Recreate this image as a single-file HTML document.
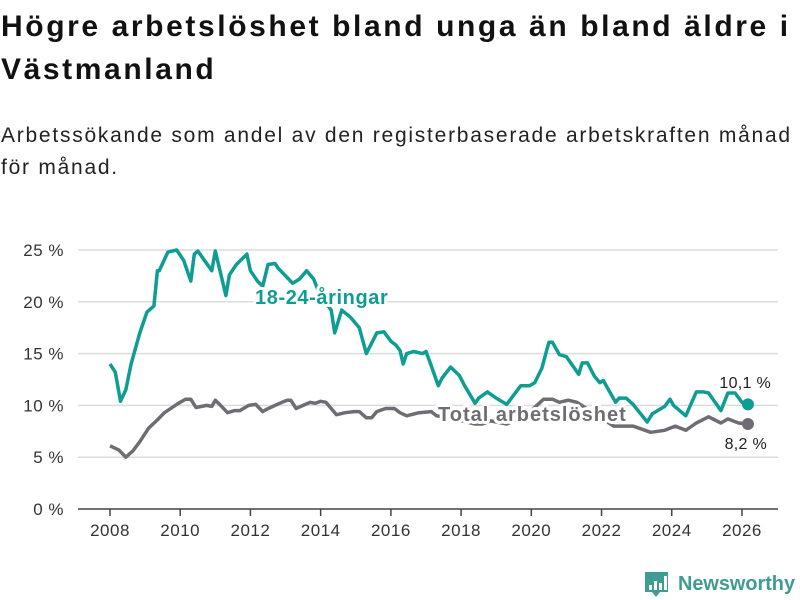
<!DOCTYPE html>
<html><head><meta charset="utf-8">
<style>
body{margin:0;background:#fff;width:800px;height:600px;overflow:hidden;font-family:"Liberation Sans",sans-serif;color:#111}
#title{position:absolute;left:1px;top:5px;font-size:30px;font-weight:bold;line-height:43px;white-space:nowrap;letter-spacing:2.6px}
#sub{position:absolute;left:1px;top:120px;font-size:21px;line-height:32px;white-space:nowrap;color:#222;letter-spacing:1.75px}
svg{position:absolute;left:0;top:0}
</style></head><body>
<div id="title">Högre arbetslöshet bland unga än bland äldre i<br>Västmanland</div>
<div id="sub">Arbetssökande som andel av den registerbaserade arbetskraften månad<br>för månad.</div>
<svg id="chart" width="800" height="600"></svg>
<script>
const yTicks=[0,5,10,15,20,25];
const xTicks=[2008,2010,2012,2014,2016,2018,2020,2022,2024,2026];
const youthT=[2008,2008.15,2008.3,2008.45,2008.6,2008.85,2009.05,2009.25,2009.35,2009.4,2009.65,2009.9,2010.1,2010.3,2010.4,2010.5,2010.9,2011.0,2011.3,2011.4,2011.6,2011.9,2012.0,2012.2,2012.35,2012.5,2012.7,2012.8,2013.0,2013.2,2013.4,2013.6,2013.8,2014.0,2014.3,2014.4,2014.6,2014.85,2015.1,2015.3,2015.45,2015.6,2015.8,2016.0,2016.15,2016.26,2016.35,2016.45,2016.65,2016.9,2017.0,2017.1,2017.35,2017.45,2017.7,2017.95,2018.1,2018.4,2018.5,2018.75,2019.0,2019.3,2019.7,2019.95,2020.1,2020.3,2020.5,2020.6,2020.8,2021.0,2021.35,2021.45,2021.6,2021.8,2021.95,2022.05,2022.4,2022.5,2022.7,2022.9,2023.3,2023.45,2023.8,2023.95,2024.05,2024.4,2024.7,2024.9,2025.05,2025.4,2025.6,2025.8,2026.0,2026.17];
const youthV=[14.0,13.2,10.4,11.5,14.0,17.0,19.0,19.6,23.0,23.0,24.8,25.0,24.0,22.0,24.6,24.9,23.0,24.9,20.6,22.6,23.6,24.6,23.0,22.0,21.5,23.6,23.7,23.2,22.5,21.8,22.2,23.0,22.2,20.5,19.2,17.0,19.2,18.5,17.5,15.0,16.0,17.0,17.1,16.2,15.8,15.3,14.0,15.0,15.2,15.0,15.2,14.3,11.9,12.6,13.7,12.9,11.9,10.2,10.7,11.3,10.7,10.1,11.9,11.9,12.2,13.6,16.1,16.1,14.9,14.7,13.0,14.1,14.1,12.8,12.2,12.4,10.3,10.7,10.7,10.1,8.4,9.2,9.9,10.6,10.0,9.0,11.3,11.3,11.2,9.5,11.2,11.2,10.3,10.1];
const totT=[2008,2008.25,2008.45,2008.65,2008.85,2009.1,2009.35,2009.55,2009.9,2010.15,2010.3,2010.45,2010.75,2010.9,2011.0,2011.15,2011.35,2011.55,2011.7,2011.95,2012.15,2012.35,2012.45,2012.7,2012.9,2013.05,2013.15,2013.3,2013.5,2013.7,2013.85,2014.0,2014.15,2014.45,2014.7,2014.95,2015.1,2015.3,2015.45,2015.6,2015.85,2016.1,2016.26,2016.45,2016.8,2017.15,2017.3,2017.8,2018.4,2018.6,2018.85,2019.3,2019.5,2019.9,2020.35,2020.6,2020.8,2021.05,2021.3,2021.8,2022.35,2022.9,2023.4,2023.8,2024.1,2024.4,2024.7,2025.05,2025.4,2025.6,2025.9,2026.17];
const totV=[6.1,5.7,5.0,5.6,6.5,7.8,8.6,9.3,10.1,10.6,10.6,9.8,10.0,9.9,10.5,10.0,9.3,9.5,9.5,10.0,10.1,9.4,9.6,10.0,10.3,10.5,10.5,9.7,10.0,10.3,10.2,10.4,10.3,9.1,9.3,9.4,9.4,8.8,8.8,9.4,9.7,9.7,9.3,9.0,9.3,9.4,9.0,8.7,8.2,8.2,8.5,8.2,8.5,9.2,10.6,10.6,10.3,10.5,10.3,9.2,8.0,8.0,7.4,7.6,8.0,7.6,8.3,8.9,8.3,8.7,8.3,8.2];
const TEAL="#0e9d92",GREY="#6f6d73";
const svg=document.getElementById('chart');
const NS="http://www.w3.org/2000/svg";
const x=t=>110+(t-2008)*35.11;
const y=v=>509-v*10.36;
function mk(tag,attrs,parent){const e=document.createElementNS(NS,tag);for(const k in attrs)e.setAttribute(k,attrs[k]);(parent||svg).appendChild(e);return e;}
yTicks.forEach(v=>{
  if(v>0){const g=mk('line',{x1:78,x2:778,y1:y(v),y2:y(v),stroke:'#dcdcdc','stroke-width':1.5});
  
  }
  const t=mk('text',{x:64,y:y(v)+6,'text-anchor':'end','font-size':17,fill:'#333','letter-spacing':0.5});
  t.textContent=v+' %';
  
  
});
const ax=mk('line',{x1:78,x2:778,y1:y(0),y2:y(0),stroke:'#444','stroke-width':1.5});


xTicks.forEach(t=>{
  mk('line',{x1:x(t),x2:x(t),y1:y(0),y2:y(0)+7,stroke:'#444','stroke-width':1.5});
  const l=mk('text',{x:x(t),y:536,'text-anchor':'middle','font-size':17,fill:'#333','letter-spacing':0.5});
  l.textContent=t;
  
  
});
function line(T,V,c,name){
  const d=T.map((t,i)=>(i?'L':'M')+x(t).toFixed(1)+','+y(V[i]).toFixed(1)).join('');
  const p=mk('path',{d:d,fill:'none',stroke:c,'stroke-width':3.5,'stroke-linejoin':'round'});
  
  
  const n=T.length-1;
  const dot=mk('circle',{cx:x(T[n]),cy:y(V[n]),r:6,fill:c});
  
  
}
line(totT,totV,GREY,'total-line');
line(youthT,youthV,TEAL,'youth-line');
function label(txt,xx,yy,c,size,bold,name,anchor,ls){
  const t=mk('text',{x:xx,y:yy,'font-size':size,'font-weight':bold?'bold':'normal',fill:c,stroke:'#fff','stroke-width':6,'paint-order':'stroke','stroke-linejoin':'round','text-anchor':anchor||'start','letter-spacing':ls||0});
  t.textContent=txt;
  
  
}
label('18-24-åringar',255,304,TEAL,20,true,'youth-series-label','start',0.6);
label('Total arbetslöshet',438,421,GREY,20,true,'total-series-label','start',1);
label('10,1 %',771,388,'#222',16,false,'youth-end-value','end',0.3);
label('8,2 %',767,449,'#222',16,false,'total-end-value','end',0.3);
const g=mk('g',{});


mk('path',{d:'M645,572 h23 v20 h-8 l-4,5 l-4,-5 h-7 z',fill:'#3e9c90'},g);
[[649,585,3,5],[654,581,3,9],[659,583,3,7],[664,576,3,14]].forEach(r=>mk('rect',{x:r[0],y:r[1],width:r[2],height:r[3],fill:'#fff'},g));
const lt=mk('text',{x:678,y:590,'font-size':20,'font-weight':'bold',fill:'#3e9c90','textLength':117,'lengthAdjust':'spacingAndGlyphs'},g);
lt.textContent='Newsworthy';
</script>
</body></html>
